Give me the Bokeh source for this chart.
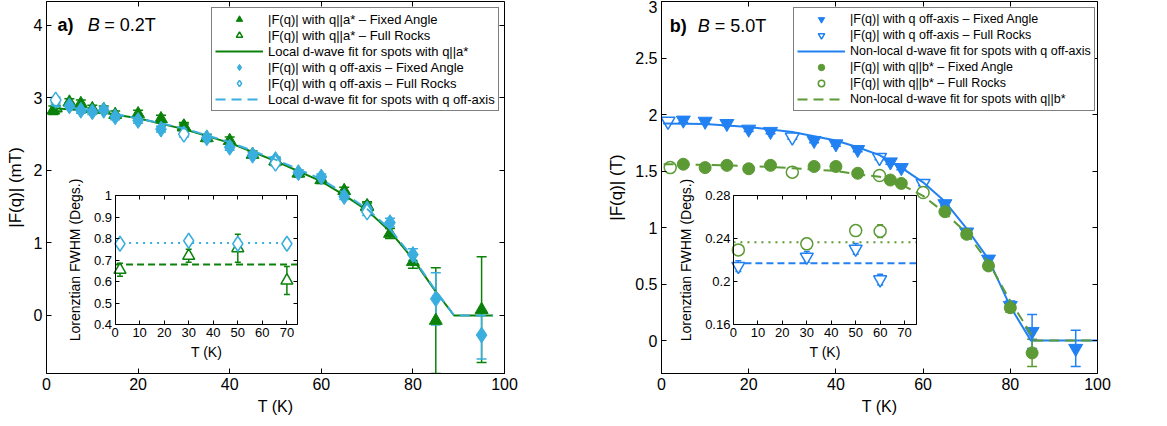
from bokeh.plotting import figure
from bokeh.models import (ColumnDataSource, Whisker, TeeHead, Range1d, LinearAxis,
                          FixedTicker, Legend, LegendItem, Label, CustomLabelingPolicy)
from bokeh.layouts import row
from bokeh.embed import file_html
from bokeh.resources import INLINE

FONT = "Liberation Sans"

# ---------------- colours ----------------
GREEN_A = "#0a820a"
BLUE_A = "#3aaede"
BLUE_B = "#2281f2"
GREEN_B = "#5b9a35"

# ---------------- panel a data (B = 0.2 T) ----------------
a_tri_T = [1.5, 5, 7.5, 10, 12.5, 15, 20, 25, 30, 35, 40, 45, 50, 55, 60, 65, 70, 75, 80, 85, 95]
a_tri_F = [2.83, 2.94, 2.92, 2.85, 2.84, 2.77, 2.78, 2.71, 2.61, 2.45, 2.41, 2.22, 2.13, 1.96,
           1.87, 1.72, 1.51, 1.13, 0.74, -0.07, 0.08]
a_tri_err = [0.06, 0.05, 0.05, 0.05, 0.05, 0.05, 0.05, 0.05, 0.05, 0.05, 0.05, 0.05, 0.05, 0.05,
             0.05, 0.05, 0.06, 0.07, 0.09, 0.73, 0.73]

a_trifr_T = [2, 30, 50, 70]
a_trifr_F = [2.86, 2.60, 2.13, 1.50]
a_trifr_err = [0.04, 0.04, 0.04, 0.05]

a_dia_T = [5, 7.5, 10, 12.5, 15, 20, 25, 35, 40, 45, 50, 55, 60, 65, 70, 75, 80, 85, 95]
a_dia_F = [2.89, 2.83, 2.81, 2.83, 2.74, 2.69, 2.57, 2.45, 2.32, 2.21, 2.15, 1.97, 1.91, 1.64,
           1.47, 1.28, 0.84, 0.23, -0.27]
a_dia_err = [0.04, 0.04, 0.04, 0.04, 0.04, 0.04, 0.04, 0.04, 0.04, 0.04, 0.04, 0.04, 0.04, 0.04,
             0.05, 0.06, 0.08, 0.36, 0.33]

a_diafr_T = [2, 30, 50, 70]
a_diafr_F = [2.97, 2.50, 2.10, 1.43]
a_diafr_err = [0.04, 0.04, 0.04, 0.05]

a_fit_T = [1, 10, 20, 30, 40, 50, 60, 65, 70, 75, 80, 85, 89, 97.5]
a_fit_loc_a = [2.86, 2.82, 2.72, 2.57, 2.38, 2.13, 1.85, 1.66, 1.45, 1.16, 0.78, 0.33, 0.0, 0.0]
a_fit_loc_off = [2.90, 2.83, 2.72, 2.58, 2.39, 2.15, 1.88, 1.68, 1.47, 1.19, 0.80, 0.34, 0.0, 0.0]

# inset a
ia_T = [2, 30, 50, 70]
ia_dia = [0.776, 0.790, 0.776, 0.776]
ia_dia_err = [0.015, 0.015, 0.02, 0.02]
ia_tri = [0.655, 0.720, 0.755, 0.605]
ia_tri_err = [0.03, 0.03, 0.065, 0.065]
ia_fit_T = [0, 74.5]
ia_fit_dia = [0.78, 0.78]
ia_fit_tri = [0.68, 0.68]

# ---------------- panel b data (B = 5.0 T) ----------------
b_tri_T = [5, 10, 15, 20, 25, 35, 40, 45, 52.5, 55, 65, 70, 75, 80, 85, 95]
b_tri_F = [1.95, 1.94, 1.92, 1.87, 1.85, 1.77, 1.74, 1.69, 1.58, 1.53, 1.21, 0.96, 0.72, 0.31,
           0.08, -0.07]
b_tri_err = [0.02, 0.02, 0.02, 0.02, 0.02, 0.02, 0.02, 0.02, 0.02, 0.02, 0.02, 0.03, 0.03, 0.04,
             0.15, 0.16]

b_trifr_T = [1.5, 30, 50, 60]
b_trifr_F = [1.94, 1.80, 1.62, 1.39]
b_trifr_err = [0.02, 0.02, 0.02, 0.02]

b_circ_T = [5, 10, 15, 20, 25, 35, 40, 45, 52.5, 55, 65, 70, 75, 80, 85]
b_circ_F = [1.56, 1.53, 1.55, 1.52, 1.55, 1.54, 1.54, 1.48, 1.42, 1.39, 1.14, 0.94, 0.66, 0.29, -0.11]
b_circ_err = [0.02, 0.02, 0.02, 0.02, 0.02, 0.02, 0.02, 0.02, 0.02, 0.02, 0.02, 0.03, 0.03, 0.04, 0.12]

b_circfr_T = [2, 30, 50, 60]
b_circfr_F = [1.53, 1.49, 1.46, 1.31]
b_circfr_err = [0.02, 0.02, 0.02, 0.02]

b_fit_T = [0.5, 10, 20, 30, 40, 45, 50, 55, 60, 65, 70, 75, 80, 84.7, 85.3, 100]
b_fit_off = [1.92, 1.915, 1.89, 1.845, 1.77, 1.71, 1.64, 1.53, 1.40, 1.23, 0.99, 0.72, 0.30, 0.0, 0.0, 0.0]
b_fit_b = [1.56, 1.555, 1.545, 1.525, 1.50, 1.47, 1.45, 1.38, 1.28, 1.13, 0.95, 0.69, 0.35, 0.06, 0.0, 0.0]

# inset b
ib_T = [2, 30, 50, 60]
ib_circ = [0.2296, 0.2352, 0.2475, 0.2470]
ib_circ_err = [0.004, 0.005, 0.004, 0.006]
ib_tri = [0.2145, 0.2230, 0.2305, 0.2020]
ib_tri_err = [0.005, 0.005, 0.005, 0.005]
ib_fit_T = [0, 75]
ib_fit_circ = [0.2367, 0.2367]
ib_fit_tri = [0.2172, 0.2172]

# ---------------- ticks ----------------
x_ticks = [0, 20, 40, 60, 80, 100]
a_y_ticks = [0, 1, 2, 3, 4]
b_y_ticks = [0, 0.5, 1, 1.5, 2, 2.5, 3]
b_y_tick_labels = ["0", "0.5", "1", "1.5", "2", "2.5", "3"]
inset_x_ticks = [0, 10, 20, 30, 40, 50, 60, 70]
ia_y_ticks = [0.4, 0.5, 0.6, 0.7, 0.8, 0.9, 1.0]
ia_y_tick_labels = ["0.4", "0.5", "0.6", "0.7", "0.8", "0.9", "1"]
ib_y_ticks = [0.16, 0.2, 0.24, 0.28]
ib_y_tick_labels = ["0.16", "0.2", "0.24", "0.28"]

NO_LABELS = """
try {
  const idx = Array.from(indices);
  for (const i of idx) {
    if (typeof indices.unset === "function") { indices.unset(i) } else { indices.set(i, false) }
  }
} catch (e) {}
return indices;
"""


def sub_range(a, b, t0, t1, m0, m1):
    k = (b - a) / (t1 - t0)
    return Range1d(start=a - (t0 - m0) * k, end=b + (m1 - t1) * k)


def style_axis(ax, ticks, labels=None, size="16px", tick_len=5, show_labels=True,
               label_size="16px"):
    ax.ticker = FixedTicker(ticks=ticks)
    if labels is not None:
        ax.major_label_overrides = dict(zip(ticks, labels))
    ax.major_tick_in = tick_len
    ax.major_tick_out = 0
    ax.minor_tick_in = 0
    ax.minor_tick_out = 0
    ax.axis_line_color = "black"
    ax.major_tick_line_color = "black"
    ax.major_label_text_font = FONT
    ax.major_label_text_font_size = size
    ax.major_label_text_color = "black"
    ax.major_label_standoff = 4
    ax.axis_label_text_font = FONT
    ax.axis_label_text_font_size = label_size
    ax.axis_label_text_font_style = "normal"
    ax.axis_label_text_color = "black"
    ax.axis_label_standoff = 5
    if not show_labels:
        ax.major_label_policy = CustomLabelingPolicy(code=NO_LABELS)


def errbar(p, x, y, err, color, head=10, **kw):
    src = ColumnDataSource(dict(x=x, up=[v + e for v, e in zip(y, err)],
                                lo=[v - e for v, e in zip(y, err)]))
    w = Whisker(base="x", upper="up", lower="lo", source=src, line_color=color,
                line_width=1.5, level="underlay",
                upper_head=TeeHead(size=head, line_color=color, line_width=1.5),
                lower_head=TeeHead(size=head, line_color=color, line_width=1.5), **kw)
    p.add_layout(w)


def make_main(xr, yr, fw, fh, mbl, mbr, xlabel, ylabel, yticks, ylabels):
    p = figure(frame_width=fw, frame_height=fh, x_range=Range1d(*xr), y_range=Range1d(*yr),
               output_backend="svg", toolbar_location=None,
               min_border_left=mbl, min_border_right=mbr, min_border_top=1,
               min_border_bottom=52)
    p.grid.visible = False
    p.outline_line_color = "black"
    p.outline_line_width = 1
    p.background_fill_color = "white"
    p.border_fill_color = "white"
    style_axis(p.xaxis[0], x_ticks)
    style_axis(p.yaxis[0], yticks, ylabels, label_size="17px")
    p.yaxis[0].axis_label_standoff = 6
    p.xaxis[0].axis_label = xlabel
    p.yaxis[0].axis_label = ylabel
    top = LinearAxis(fixed_location=yr[1])
    style_axis(top, x_ticks, show_labels=False)
    p.add_layout(top, "above")
    right = LinearAxis(fixed_location=xr[1])
    style_axis(right, yticks, show_labels=False)
    p.add_layout(right, "right")
    return p


def add_inset(p, ixr, iyr, box_x, box_y, xr, yr, yticks, ylabels, ylabel):
    p.extra_x_ranges = {"ix": sub_range(ixr[0], ixr[1], box_x[0], box_x[1], xr[0], xr[1])}
    p.extra_y_ranges = {"iy": sub_range(iyr[0], iyr[1], box_y[0], box_y[1], yr[0], yr[1])}
    kw = dict(x_range_name="ix", y_range_name="iy")
    bx = LinearAxis(fixed_location=iyr[0], bounds=ixr, **kw)
    style_axis(bx, inset_x_ticks, size="13px", tick_len=4, label_size="14px")
    bx.axis_label = "T (K)"
    bx.major_label_standoff = 3
    bx.axis_label_standoff = 4
    p.add_layout(bx, "below")
    ly = LinearAxis(fixed_location=ixr[0], bounds=iyr, **kw)
    style_axis(ly, yticks, ylabels, size="13px", tick_len=4, label_size="14px")
    ly.axis_label = ylabel
    ly.major_label_standoff = 3
    ly.axis_label_standoff = 8
    p.add_layout(ly, "left")
    tx = LinearAxis(fixed_location=iyr[1], bounds=ixr, **kw)
    style_axis(tx, inset_x_ticks, tick_len=4, show_labels=False)
    p.add_layout(tx, "above")
    ry = LinearAxis(fixed_location=ixr[1], bounds=iyr, **kw)
    style_axis(ry, yticks, tick_len=4, show_labels=False)
    p.add_layout(ry, "right")
    return kw


def style_legend(leg, size):
    leg.label_text_font = FONT
    leg.label_text_font_size = size
    leg.label_text_color = "black"
    leg.border_line_color = "black"
    leg.border_line_width = 1
    leg.background_fill_color = "white"
    leg.background_fill_alpha = 1
    leg.padding = 3
    leg.spacing = 0
    leg.margin = 0
    leg.glyph_width = 48
    leg.glyph_height = 16
    leg.label_height = 16
    leg.label_standoff = 5


# ================= panel a =================
xa = (0, 100)
ya = (-0.8, 4.33)
pa = make_main(xa, ya, 458, 372, 46, 80, "T (K)", "|F(q)| (mT)", a_y_ticks, None)

errbar(pa, a_tri_T, a_tri_F, a_tri_err, GREEN_A)
r_a1 = pa.scatter(a_tri_T, a_tri_F, marker="triangle", size=13, fill_color=GREEN_A,
                  line_color=GREEN_A, line_width=1)
errbar(pa, a_trifr_T, a_trifr_F, a_trifr_err, GREEN_A)
r_a2 = pa.scatter(a_trifr_T, a_trifr_F, marker="triangle", size=13, fill_color=None,
                  line_color=GREEN_A, line_width=1.5)
r_a3 = pa.line(a_fit_T, a_fit_loc_a, line_color=GREEN_A, line_width=2)
errbar(pa, a_dia_T, a_dia_F, a_dia_err, BLUE_A)
r_a4 = pa.scatter(a_dia_T, a_dia_F, marker="diamond", size=16, fill_color=BLUE_A,
                  line_color=BLUE_A, line_width=1)
errbar(pa, a_diafr_T, a_diafr_F, a_diafr_err, BLUE_A)
r_a5 = pa.scatter(a_diafr_T, a_diafr_F, marker="diamond", size=16, fill_color="white",
                  line_color=BLUE_A, line_width=1.5)
r_a6 = pa.line(a_fit_T, a_fit_loc_off, line_color=BLUE_A, line_width=2, line_dash="10 6")

kwa = add_inset(pa, (0, 74.5), (0.4, 1.0), (14.97, 54.9), (-0.128, 1.655), xa, ya,
                ia_y_ticks, ia_y_tick_labels, "Lorenztian FWHM (Degs.)")
pa.line(ia_fit_T, ia_fit_tri, line_color=GREEN_A, line_width=2, line_dash="7 4", **kwa)
pa.line(ia_fit_T, ia_fit_dia, line_color=BLUE_A, line_width=2, line_dash="2 5", **kwa)
errbar(pa, ia_T, ia_tri, ia_tri_err, GREEN_A, head=6, **kwa)
errbar(pa, ia_T, ia_dia, ia_dia_err, BLUE_A, head=6, **kwa)
pa.scatter(ia_T, ia_tri, marker="triangle", size=12, fill_color="white", line_color=GREEN_A,
           line_width=1.5, **kwa)
pa.scatter(ia_T, ia_dia, marker="diamond", size=15, fill_color="white", line_color=BLUE_A,
           line_width=1.5, **kwa)

leg_a = Legend(items=[
    LegendItem(label="|F(q)| with q||a* – Fixed Angle", renderers=[r_a1]),
    LegendItem(label="|F(q)| with q||a* – Full Rocks", renderers=[r_a2]),
    LegendItem(label="Local d-wave fit for spots with q||a*", renderers=[r_a3]),
    LegendItem(label="|F(q)| with q off-axis – Fixed Angle", renderers=[r_a4]),
    LegendItem(label="|F(q)| with q off-axis – Full Rocks", renderers=[r_a5]),
    LegendItem(label="Local d-wave fit for spots with q off-axis", renderers=[r_a6]),
], location=(165, 262))
style_legend(leg_a, "13px")
pa.add_layout(leg_a)

pa.add_layout(Label(x=2.4, y=4.0, text="a)", text_font=FONT, text_font_size="18px",
                    text_font_style="bold", text_baseline="middle", text_color="black"))
pa.add_layout(Label(x=9.0, y=4.0, text="B", text_font=FONT, text_font_size="18px",
                    text_font_style="italic", text_baseline="middle", text_color="black"))
pa.add_layout(Label(x=12.6, y=4.0, text="= 0.2T", text_font=FONT, text_font_size="18px",
                    text_baseline="middle", text_color="black"))

# ================= panel b =================
xb = (0, 100)
yb = (-0.292, 3.0)
pb = make_main(xb, yb, 436, 372, 77, 70, "T (K)", "|F(q)| (T)", b_y_ticks, b_y_tick_labels)

errbar(pb, b_tri_T, b_tri_F, b_tri_err, BLUE_B)
r_b1 = pb.scatter(b_tri_T, b_tri_F, marker="inverted_triangle", size=14, fill_color=BLUE_B,
                  line_color=BLUE_B, line_width=1)
errbar(pb, b_trifr_T, b_trifr_F, b_trifr_err, BLUE_B)
r_b2 = pb.scatter(b_trifr_T, b_trifr_F, marker="inverted_triangle", size=14, fill_color="white",
                  line_color=BLUE_B, line_width=1.5)
r_b3 = pb.line(b_fit_T, b_fit_off, line_color=BLUE_B, line_width=2)
errbar(pb, b_circ_T, b_circ_F, b_circ_err, GREEN_B)
r_b4 = pb.scatter(b_circ_T, b_circ_F, marker="circle", size=12, fill_color=GREEN_B,
                  line_color=GREEN_B, line_width=1)
errbar(pb, b_circfr_T, b_circfr_F, b_circfr_err, GREEN_B)
r_b5 = pb.scatter(b_circfr_T, b_circfr_F, marker="circle", size=12, fill_color="white",
                  line_color=GREEN_B, line_width=1.5)
r_b6 = pb.line(b_fit_T, b_fit_b, line_color=GREEN_B, line_width=2, line_dash="10 6")

kwb = add_inset(pb, (0, 75), (0.16, 0.28), (16.5, 58.56), (0.139, 1.282), xb, yb,
                ib_y_ticks, ib_y_tick_labels, "Lorenztian FWHM (Degs.)")
pb.line(ib_fit_T, ib_fit_circ, line_color=GREEN_B, line_width=2, line_dash="2 5", **kwb)
pb.line(ib_fit_T, ib_fit_tri, line_color=BLUE_B, line_width=2, line_dash="7 4", **kwb)
errbar(pb, ib_T, ib_circ, ib_circ_err, GREEN_B, head=6, **kwb)
errbar(pb, ib_T, ib_tri, ib_tri_err, BLUE_B, head=6, **kwb)
pb.scatter(ib_T, ib_circ, marker="circle", size=12, fill_color="white", line_color=GREEN_B,
           line_width=1.5, **kwb)
pb.scatter(ib_T, ib_tri, marker="inverted_triangle", size=13, fill_color="white",
           line_color=BLUE_B, line_width=1.5, **kwb)

leg_b = Legend(items=[
    LegendItem(label="|F(q)| with q off-axis – Fixed Angle", renderers=[r_b1]),
    LegendItem(label="|F(q)| with q off-axis – Full Rocks", renderers=[r_b2]),
    LegendItem(label="Non-local d-wave fit for spots with q off-axis", renderers=[r_b3]),
    LegendItem(label="|F(q)| with q||b* – Fixed Angle", renderers=[r_b4]),
    LegendItem(label="|F(q)| with q||b* – Full Rocks", renderers=[r_b5]),
    LegendItem(label="Non-local d-wave fit for spots with q||b*", renderers=[r_b6]),
], location=(132, 262))
style_legend(leg_b, "12.5px")
pb.add_layout(leg_b)

pb.add_layout(Label(x=1.9, y=2.786, text="b)", text_font=FONT, text_font_size="18px",
                    text_font_style="bold", text_baseline="middle", text_color="black"))
pb.add_layout(Label(x=8.3, y=2.786, text="B", text_font=FONT, text_font_size="18px",
                    text_font_style="italic", text_baseline="middle", text_color="black"))
pb.add_layout(Label(x=12.2, y=2.786, text="= 5.0T", text_font=FONT, text_font_size="18px",
                    text_baseline="middle", text_color="black"))

layout = row(pa, pb)
open("out.html", "w").write(file_html(layout, INLINE))
